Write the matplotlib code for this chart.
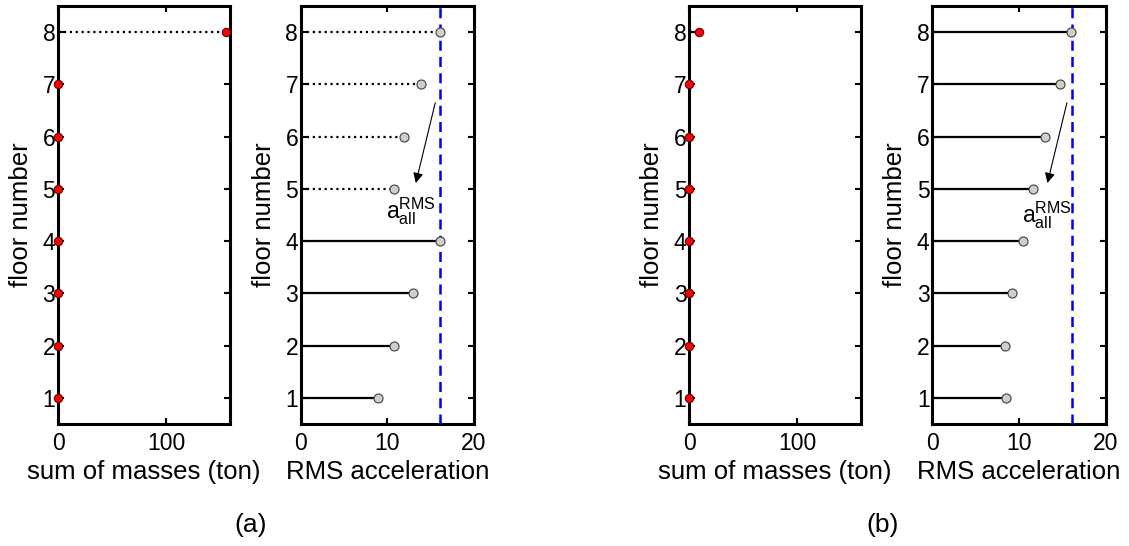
import numpy as np
import matplotlib
matplotlib.use("Agg")
import matplotlib.pyplot as plt

plt.rcParams['font.family'] = ['Liberation Sans', 'DejaVu Sans']

floors = [1, 2, 3, 4, 5, 6, 7, 8]

# case (a): all mass on top floor
mass_a = [0, 0, 0, 0, 0, 0, 0, 155]
acc_a = [8.9, 10.8, 13.0, 16.1, 10.7, 11.9, 13.9, 16.1]
dotted_a = [False, False, False, False, True, True, True, True]

# case (b)
mass_b = [0, 0, 0, 0, 0, 0, 0, 9]
acc_b = [8.5, 8.4, 9.2, 10.4, 11.6, 13.0, 14.7, 16.0]
dotted_b = [False] * 8

a_limit = 16.1
captions = ['(a)', '(b)']

fig = plt.figure(figsize=(11.29, 5.46), dpi=100)

TFS = 16.5   # tick labels
LFS = 18.5   # axis labels


def style(ax, xlim, xticks):
    ax.set_xlim(*xlim)
    ax.set_ylim(0.5, 8.5)
    ax.set_xticks(xticks)
    ax.set_yticks(floors)
    ax.tick_params(direction='in', top=True, right=True, length=4, width=1.5,
                   labelsize=TFS)
    ax.tick_params(axis='x', pad=6)
    ax.tick_params(axis='y', pad=2)
    for s in ax.spines.values():
        s.set_linewidth(2.2)


def mass_panel(ax, mass, dotted):
    for f, m, d in zip(floors, mass, dotted):
        if m > 0:
            ax.plot([0, m], [f, f], color='k', lw=1.6, ls=':' if d else '-', zorder=2)
    ax.plot(mass, floors, 'o', ms=6, mfc='red', mec='#600000', mew=0.8,
            clip_on=False, zorder=5)
    style(ax, (0, 159), [0, 100])
    ax.set_ylabel('floor number', fontsize=LFS, labelpad=7)
    ax.set_xlabel('sum of masses (ton)', fontsize=LFS, labelpad=3)


def acc_panel(ax, acc, dotted, txt_xy):
    for f, a, d in zip(floors, acc, dotted):
        ax.plot([0, a], [f, f], color='k', lw=1.6, ls=':' if d else '-', zorder=2)
    ax.axvline(a_limit, color='#0000ee', lw=1.8, ls=(0, (4, 2.5)), zorder=3)
    ax.plot(acc, floors, 'o', ms=6.5, mfc='#cfcfc7', mec='#404040', mew=0.8,
            zorder=5)
    ax.annotate('', xy=(13.2, 5.06), xytext=(15.6, 6.7),
                arrowprops=dict(arrowstyle='-|>', color='k', lw=0.8,
                                mutation_scale=15))
    ax.text(txt_xy[0], txt_xy[1], r'$\mathregular{a_{all}^{RMS}}$', fontsize=TFS,
            ha='center', va='center', zorder=6)
    style(ax, (0, 20), [0, 10, 20])
    ax.set_ylabel('floor number', fontsize=LFS, labelpad=7)
    ax.set_xlabel('RMS acceleration', fontsize=LFS, labelpad=3)


bottom, height = 0.2234, 0.7656
ax1 = fig.add_axes([0.0514, bottom, 0.1523, height])
ax2 = fig.add_axes([0.2666, bottom, 0.1532, height])
ax3 = fig.add_axes([0.6105, bottom, 0.1523, height])
ax4 = fig.add_axes([0.8258, bottom, 0.1536, height])

mass_panel(ax1, mass_a, dotted_a)
acc_panel(ax2, acc_a, dotted_a, (12.7, 4.58))
mass_panel(ax3, mass_b, dotted_b)
acc_panel(ax4, acc_b, dotted_b, (13.2, 4.5))

fig.text(251 / 1129, 1 - 525 / 546, captions[0], fontsize=19, ha='center', va='center')
fig.text(883 / 1129, 1 - 525 / 546, captions[1], fontsize=19, ha='center', va='center')

fig.savefig('out.png', dpi=100)
